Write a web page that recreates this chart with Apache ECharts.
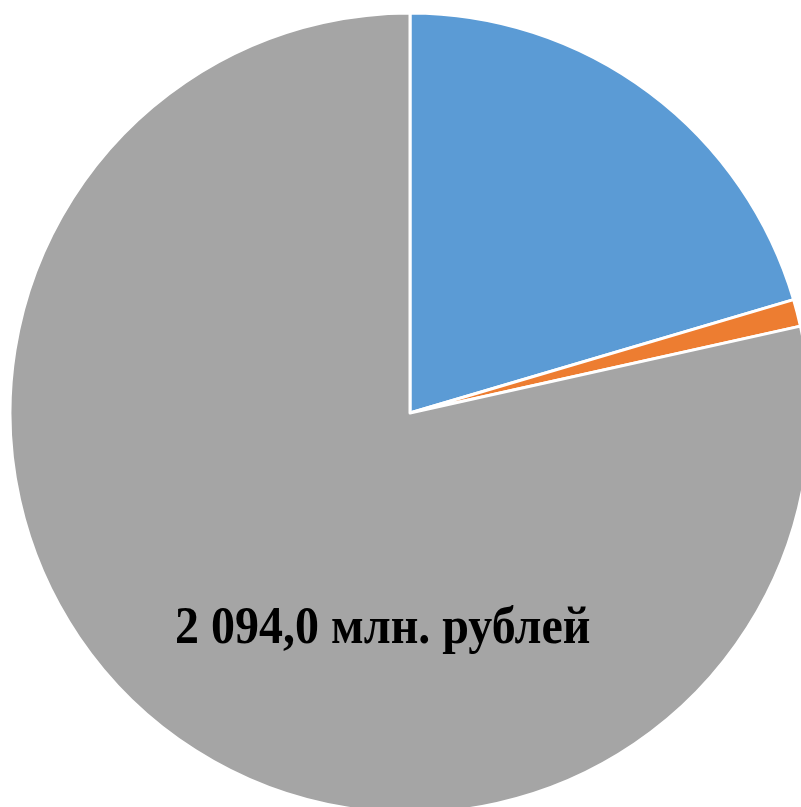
<!DOCTYPE html>
<html>
<head>
<meta charset="utf-8">
<script src="https://cdn.jsdelivr.net/npm/echarts@6/dist/echarts.min.js"></script>
<style>
html,body{margin:0;padding:0;background:#fff;}
#chart{width:801px;height:807px;}
</style>
</head>
<body>
<div id="chart"></div>
<script>
var categories = ['Сегмент 1', 'Сегмент 2', 'Сегмент 3'];
var values = [545.0, 29.0, 2094.0];
var colors = ['#5B9BD5', '#ED7D31', '#A5A5A5'];
var labelText = '2 094,0 млн. рублей';

var chart = echarts.init(document.getElementById('chart'), null, {renderer: 'canvas'});
var data = categories.map(function (c, i) {
  return { name: c, value: values[i], itemStyle: { color: colors[i] } };
});
chart.setOption({
  animation: false,
  backgroundColor: '#ffffff',
  series: [{
    type: 'pie',
    center: [410, 413],
    radius: 400,
    startAngle: 90,
    clockwise: true,
    avoidLabelOverlap: false,
    label: { show: false },
    labelLine: { show: false },
    emphasis: { disabled: true },
    itemStyle: { borderColor: '#ffffff', borderWidth: 3 },
    data: data
  }],
  graphic: [{
    type: 'text',
    z: 100,
    x: 175,
    y: 604,
    scaleX: 1,
    scaleY: 1.08,
    style: {
      x: 0,
      y: 0,
      text: labelText,
      textVerticalAlign: 'top',
      fontFamily: 'Liberation Serif',
      fontWeight: 'bold',
      fontSize: 48,
      fill: '#000000'
    }
  }]
});
</script>
</body>
</html>
